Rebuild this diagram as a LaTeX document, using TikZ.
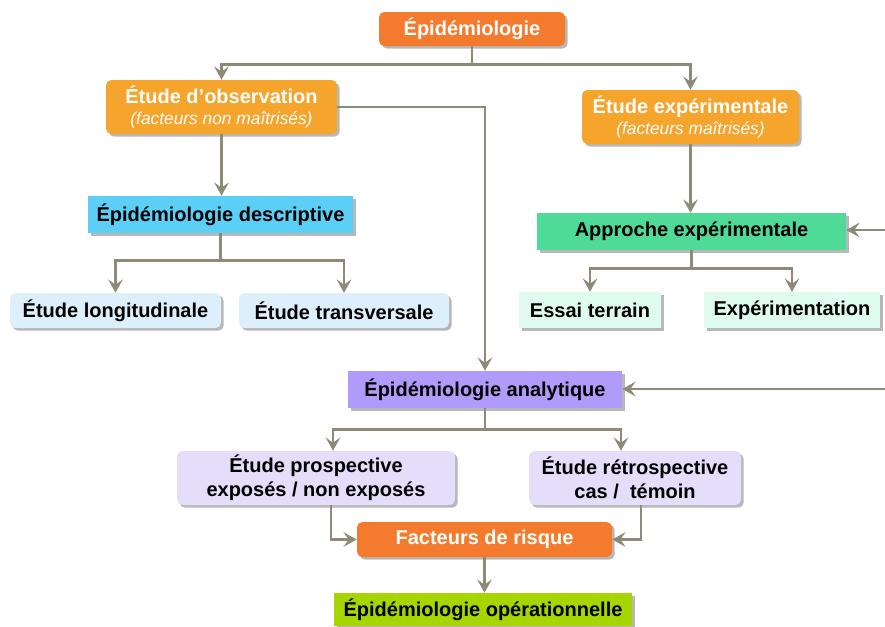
\documentclass[tikz,border=0pt]{standalone}
\usepackage{fontspec}
\setmainfont{Liberation Sans}
\usetikzlibrary{arrows.meta,shadows,calc}
\definecolor{cOrA}{HTML}{F47B2E}
\definecolor{cOrB}{HTML}{F5A42C}
\definecolor{cBlue}{HTML}{5CCFF7}
\definecolor{cLBlue}{HTML}{DDEFFB}
\definecolor{cGreen}{HTML}{4FDA98}
\definecolor{cMint}{HTML}{DFFBF0}
\definecolor{cPurp}{HTML}{B09BFA}
\definecolor{cLav}{HTML}{E5DEFB}
\definecolor{cYG}{HTML}{A6D600}
\definecolor{cLine}{HTML}{8F8A78}
\begin{document}
\begin{tikzpicture}[x=0.75pt,y=-0.75pt,
  box/.style={inner sep=0pt,align=center,font=\bfseries\fontsize{15}{18}\selectfont,
     drop shadow={shadow xshift=2pt,shadow yshift=-2pt,fill=black!35,opacity=0.8}},
  rbox/.style={box,rounded corners=4pt},
  wt/.style={text=white},
  arr/.style={draw=cLine,line width=2pt,-{Stealth[length=10pt,width=11pt,inset=4pt]}},
  ln/.style={draw=cLine,line width=2pt}]
\useasboundingbox (0,0) rectangle (885,626);
% nodes
\node[rbox,wt,fill=cOrA,minimum width=186*0.75pt,minimum height=34*0.75pt] (epi) at (472,29) {Épidémiologie};
\node[rbox,wt,fill=cOrB,minimum width=231*0.75pt,minimum height=54*0.75pt] (obs) at (221.5,107) {Étude d’observation\\[-2pt]{\normalfont\itshape\fontsize{13}{15}\selectfont (facteurs non maîtrisés)}};
\node[rbox,wt,fill=cOrB,minimum width=217*0.75pt,minimum height=54*0.75pt] (exp) at (690.5,117) {Étude expérimentale\\[-2pt]{\normalfont\itshape\fontsize{13}{15}\selectfont (facteurs maîtrisés)}};
\node[box,fill=cBlue,minimum width=265*0.75pt,minimum height=37*0.75pt] (desc) at (220.5,214.5) {Épidémiologie descriptive};
\node[rbox,fill=cLBlue,minimum width=211*0.75pt,minimum height=35*0.75pt] (longi) at (115.5,310.5) {Étude longitudinale};
\node[rbox,fill=cLBlue,minimum width=210*0.75pt,minimum height=35*0.75pt] (transv) at (344,310.5) {Étude transversale};
\node[box,fill=cGreen,minimum width=309*0.75pt,minimum height=37*0.75pt] (appr) at (691.5,231.5) {Approche expérimentale};
\node[box,fill=cMint,minimum width=142*0.75pt,minimum height=36*0.75pt] (essai) at (590,310) {Essai terrain};
\node[box,fill=cMint,minimum width=176*0.75pt,minimum height=36*0.75pt] (expe) at (792,310) {Expérimentation};
\node[box,fill=cPurp,minimum width=274*0.75pt,minimum height=37*0.75pt] (anal) at (485,389.5) {Épidémiologie analytique};
\node[rbox,fill=cLav,minimum width=278*0.75pt,minimum height=54*0.75pt] (prosp) at (316,478) {Étude prospective\\exposés / non exposés};
\node[rbox,fill=cLav,minimum width=212*0.75pt,minimum height=54*0.75pt] (retro) at (635,478) {Étude rétrospective\\cas /~ témoin};
\node[rbox,wt,fill=cOrA,minimum width=255*0.75pt,minimum height=35*0.75pt] (fact) at (484.5,539.5) {Facteurs de risque};
\node[box,fill=cYG,minimum width=298*0.75pt,minimum height=33*0.75pt] (oper) at (483,609.5) {Épidémiologie opérationnelle};
\coordinate (in1) at (885,230);
\coordinate (in2) at (885,389);
% connectors
\draw[arr] (epi.south) -- ++(0,18) -| (obs.north);
\draw[arr] (epi.south) -- ++(0,18) -| (exp.north);
\draw[arr] (obs.south) -- (obs.south |- desc.north);
\draw[arr] (desc.south) -- ++(0,27) -| (longi.north);
\draw[arr] (desc.south) -- ++(0,27) -| (transv.north);
\draw[arr] (obs.east) -| (anal.north);
\draw[arr] (exp.south) -- (exp.south |- appr.north);
\draw[arr] (in1) -- (appr.east |- in1);
\draw[arr] (appr.south) -- ++(0,18) -| (essai.north);
\draw[arr] (appr.south) -- ++(0,18) -| (expe.north);
\draw[arr] (in2) -- (anal.east |- in2);
\draw[arr] (anal.south) -- ++(0,21) -| ([xshift=12.75pt]prosp.north);
\draw[arr] (anal.south) -- ++(0,21) -| ([xshift=-10.5pt]retro.north);
\draw[arr] ([xshift=11.25pt]prosp.south) |- (fact.west);
\draw[arr] ([xshift=4.5pt]retro.south) |- (fact.east);
\draw[arr] (fact.south) -- (fact.south |- oper.north);
\end{tikzpicture}
\end{document}
